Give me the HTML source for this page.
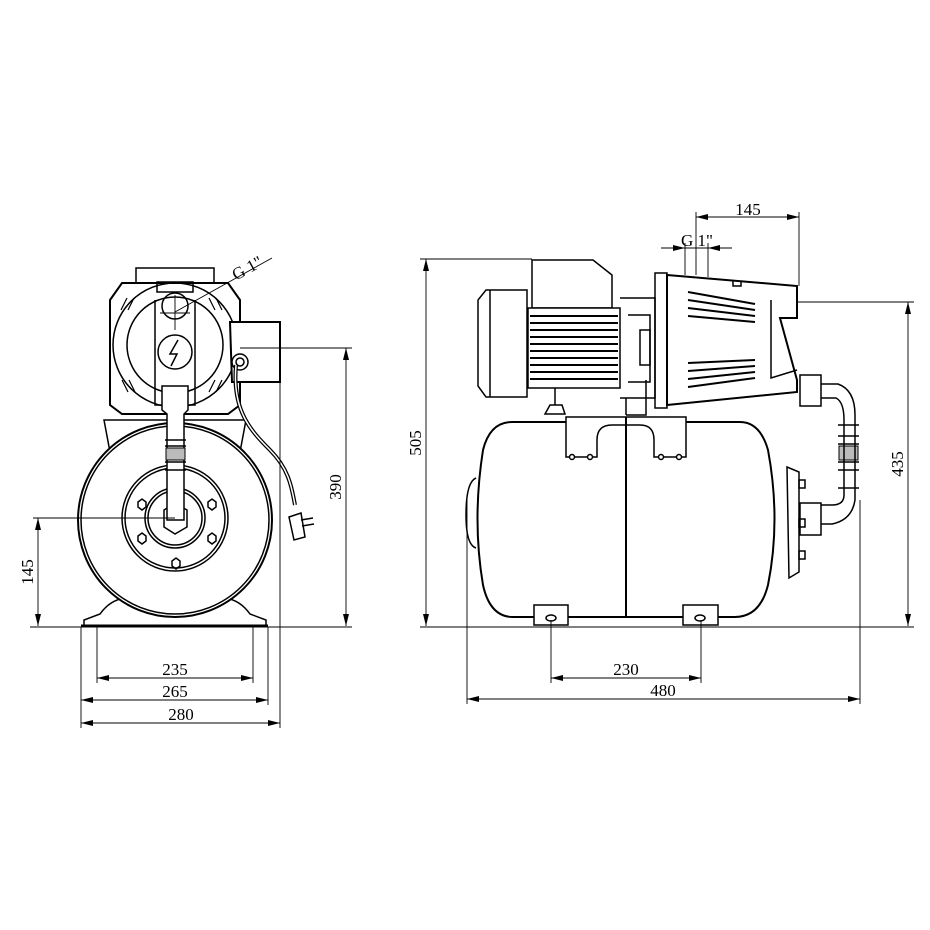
<!DOCTYPE html>
<html><head><meta charset="utf-8"><style>
html,body{margin:0;padding:0;background:#fff;width:930px;height:930px;overflow:hidden}
svg{display:block}
text{font-family:"Liberation Serif",serif;font-size:17px;fill:#000}
</style></head><body>
<svg width="930" height="930" viewBox="0 0 930 930" xmlns="http://www.w3.org/2000/svg">
<defs>
<marker id="a" viewBox="0 0 12 6" refX="12" refY="3" markerWidth="12" markerHeight="6" orient="auto-start-reverse" markerUnits="userSpaceOnUse"><path d="M0,0 L12,3 L0,6 Z" fill="#000"/></marker>
</defs>

<!-- ============ LEFT VIEW ============ -->
<g fill="none" stroke="#000" stroke-width="1.5">
 <path d="M110,452 L104,420 L246,420 L240,452"/>
 <path d="M84,626 L84,620 L100,614 Q110,600 125,598 L225,598 Q240,600 250,614 L266,620 L266,626"/>
 <circle cx="175" cy="520" r="97" fill="#fff" stroke-width="2"/>
 <circle cx="175" cy="520" r="94"/>
 <circle cx="175" cy="518" r="53"/>
 <circle cx="175" cy="518" r="50"/>
 <circle cx="175" cy="518" r="30"/>
 <circle cx="175" cy="518" r="27"/>
 <path d="M164,510 L175,503 L187,510 L187,527 L175,534 L164,527 Z"/>
 <path d="M138,502 l4,-3 4,3 0,5 -4,3 -4,-3z M208,502 l4,-3 4,3 0,5 -4,3 -4,-3z M138,536 l4,-3 4,3 0,5 -4,3 -4,-3z M208,536 l4,-3 4,3 0,5 -4,3 -4,-3z M172,561 l4,-3 4,3 0,5 -4,3 -4,-3z"/>
 <path d="M136,282 L136,268 L214,268 L214,282"/>
 <path d="M122,283 L228,283 L240,300 L240,405 L228,414 L122,414 L110,405 L110,300 Z" fill="#fff" stroke-width="2"/>
 <circle cx="175" cy="345" r="62"/>
 <circle cx="175" cy="345" r="48"/>
 <path d="M155,300 L155,405 L195,405 L195,300"/>
 <circle cx="175" cy="352" r="17"/>
 <path d="M178,340 L170,354 L177,354 L171,366"/>
 <circle cx="175" cy="306" r="13"/>
 <rect x="157" y="282" width="36" height="10"/>
 <path d="M162,386 L188,386 L188,410 L184,414 L184,520 L167,520 L167,414 L162,410 Z" fill="#fff"/>
 <path d="M165,440 L186,440 M165,446 L186,446 M165,462 L186,462 M165,470 L186,470"/>
 <rect x="166" y="448" width="19" height="12" fill="#bbb" stroke-width="1"/>
 <path d="M121,310 l6,-12 M128,310 l6,-12 M122,380 l6,12 M129,380 l6,12 M222,310 l-6,-12 M215,310 l-6,-12 M222,380 l-6,12 M215,380 l-6,12" stroke-width="1.2"/>
 <path d="M230,322 L280,322 L280,382 L232,382 Z" fill="#fff" stroke-width="2"/>
 <circle cx="240" cy="362" r="8"/>
 <circle cx="240" cy="362" r="4"/>
 <path d="M236,365 C232,410 250,430 270,450 C290,470 292,490 295,505" stroke-width="4"/>
 <path d="M236,365 C232,410 250,430 270,450 C290,470 292,490 295,505" stroke="#fff" stroke-width="1.5"/>
 <path d="M289,517 L301,513 L305,537 L294,540 Z"/>
 <path d="M301,520 L313,518 M302,526 L314,524"/>
</g>
<g fill="none" stroke="#000" stroke-width="0.9">
 <path d="M175,312 L272,258"/>
 <path d="M175,295 L175,330 M160,313 L190,313"/>
 <path d="M240,348 L352,348"/>
 <path d="M346,348 L346,626" marker-start="url(#a)" marker-end="url(#a)"/>
 <path d="M33,518 L175,518"/>
 <path d="M38,518 L38,626" marker-start="url(#a)" marker-end="url(#a)"/>
 <path d="M30,627 L352,627"/>
 <path d="M81,627 L81,728 M97,627 L97,683 M253,627 L253,683 M268,627 L268,705 M280,382 L280,728"/>
 <path d="M97,678 L253,678" marker-start="url(#a)" marker-end="url(#a)"/>
 <path d="M81,700 L268,700" marker-start="url(#a)" marker-end="url(#a)"/>
 <path d="M81,723 L280,723" marker-start="url(#a)" marker-end="url(#a)"/>
</g>
<path d="M81,626 L268,626" stroke="#000" stroke-width="3"/>
<text x="175" y="675" text-anchor="middle">235</text>
<text x="175" y="697" text-anchor="middle">265</text>
<text x="181" y="720" text-anchor="middle">280</text>
<text transform="translate(341,487) rotate(-90)" text-anchor="middle">390</text>
<text transform="translate(33,572) rotate(-90)" text-anchor="middle">145</text>
<text transform="translate(250,273) rotate(-29)" text-anchor="middle">G 1"</text>

<!-- ============ RIGHT VIEW ============ -->
<g fill="none" stroke="#000" stroke-width="1.5">
 <path d="M512,422 L740,422 Q760,422 768,450 Q781,520 768,585 Q760,617 735,617 L513,617 Q490,617 483,585 Q472,520 483,450 Q490,422 512,422 Z" stroke-width="2"/>
 <path d="M476,478 Q466,482 466,515 Q466,545 476,548"/>
 <path d="M626,418 L626,617" stroke-width="2"/>
 <!-- saddle -->
 <path d="M566,417 L686,417 L686,457 L654,457 L654,440 Q654,425 640,425 L612,425 Q597,425 597,440 L597,457 L566,457 Z" fill="#fff"/>
 <path d="M626,417 L626,425" stroke-width="2"/>
 <circle cx="572" cy="457" r="2.5" fill="#fff"/><circle cx="590" cy="457" r="2.5" fill="#fff"/>
 <circle cx="661" cy="457" r="2.5" fill="#fff"/><circle cx="679" cy="457" r="2.5" fill="#fff"/>
 <rect x="534" y="605" width="34" height="20" fill="#fff"/>
 <rect x="683" y="605" width="35" height="20" fill="#fff"/>
 <ellipse cx="551" cy="618" rx="5" ry="3"/><ellipse cx="700" cy="618" rx="5" ry="3"/>
 <!-- motor -->
 <path d="M486,290 L527,290 L527,397 L486,397 L478,386 L478,300 Z" fill="#fff"/>
 <path d="M490,290 L490,397"/>
 <path d="M532,260 L593,260 L612,275 L612,308 L532,308 Z"/>
 <path d="M528,308 L620,308 L620,388 L528,388 Z" fill="#fff"/>
 <path d="M530,316 H618 M530,323 H618 M530,330 H618 M530,337 H618 M530,344 H618 M530,351 H618 M530,358 H618 M530,365 H618 M530,372 H618 M530,379 H618" stroke-width="2"/>
 <path d="M555,388 L555,405 M550,405 L562,405 L565,414 L545,414 Z"/>
 <path d="M620,298 L655,298 L655,398 L620,398"/>
 <path d="M628,315 L650,315 L650,382 L628,382"/>
 <path d="M640,330 L650,330 L650,365 L640,365 Z"/>
 <path d="M626,415 L646,415 L646,380 M626,398 L626,415"/>
 <!-- pump housing -->
 <rect x="655" y="273" width="12" height="135"/>
 <path d="M667,275 L797,286 L797,318 L780,318 L797,380 L797,392 L667,405 Z" fill="#fff" stroke-width="2"/>
 <path d="M771,300 L771,378 L797,370"/>
 <path d="M688,292 L755,304 M688,300 L755,310 M688,308 L755,316 M688,316 L755,322 M688,363 L755,360 M688,371 L755,366 M688,379 L755,372 M688,387 L755,378" stroke-width="2"/>
 <path d="M733,280 L733,286 L741,286 L741,281"/>
 <!-- outlet pipe -->
 <rect x="800" y="375" width="21" height="31" fill="#fff"/>
 <path d="M821,384 L838,384 Q855,390 855,415 L855,425 M821,398 L836,398 Q844,402 844,420 L844,425"/>
 <path d="M838,425 L859,425 M838,436 L859,436 M838,444 L859,444 M838,462 L859,462 M838,470 L859,470 M838,488 L859,488"/>
 <rect x="839" y="446" width="19" height="14" fill="#bbb" stroke-width="1"/>
 <path d="M844,425 L844,488 M855,425 L855,488"/>
 <path d="M844,488 L844,495 Q844,505 832,505 L821,505 M855,488 L855,500 Q852,520 832,524 L821,524"/>
 <rect x="800" y="503" width="21" height="32" fill="#fff"/>
 <path d="M787,467 L799,472 L799,572 L789,578 Z"/>
 <rect x="799" y="480" width="6" height="8"/><rect x="799" y="519" width="6" height="8"/><rect x="799" y="551" width="6" height="8"/>
</g>
<g fill="none" stroke="#000" stroke-width="0.9">
 <path d="M420,259 L532,259"/>
 <path d="M426,259 L426,626" marker-start="url(#a)" marker-end="url(#a)"/>
 <path d="M797,302 L914,302"/>
 <path d="M908,302 L908,626" marker-start="url(#a)" marker-end="url(#a)"/>
 <path d="M420,627 L914,627"/>
 <path d="M696,212 L696,275 M799,212 L799,286"/>
 <path d="M696,217 L799,217" marker-start="url(#a)" marker-end="url(#a)"/>
 <path d="M685,243 L685,275 M708,243 L708,277"/>
 <path d="M661,248 L685,248" marker-end="url(#a)"/>
 <path d="M732,248 L708,248" marker-end="url(#a)"/>
 <path d="M685,248 L708,248"/>
 <path d="M467,500 L467,704 M860,500 L860,704 M551,620 L551,683 M701,620 L701,683"/>
 <path d="M551,678 L701,678" marker-start="url(#a)" marker-end="url(#a)"/>
 <path d="M467,699 L860,699" marker-start="url(#a)" marker-end="url(#a)"/>
</g>
<text x="626" y="675" text-anchor="middle">230</text>
<text x="663" y="696" text-anchor="middle">480</text>
<text x="748" y="215" text-anchor="middle">145</text>
<text x="697" y="246" text-anchor="middle">G 1"</text>
<text transform="translate(421,443) rotate(-90)" text-anchor="middle">505</text>
<text transform="translate(903,464) rotate(-90)" text-anchor="middle">435</text>
</svg>
</body></html>
